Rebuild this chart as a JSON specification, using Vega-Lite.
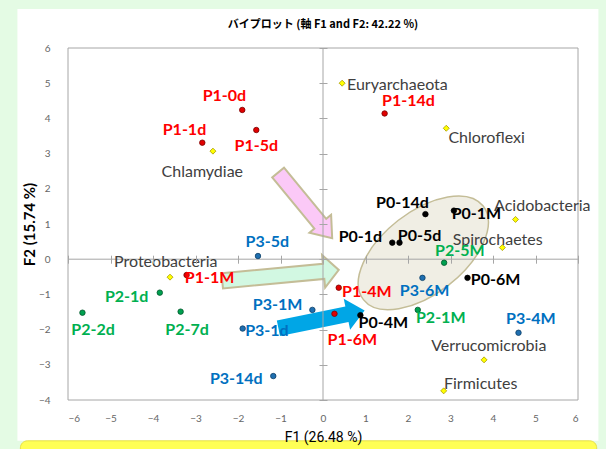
{
  "$schema": "https://vega.github.io/schema/vega-lite/v6.json",
  "width": 510,
  "height": 352,
  "autosize": {"type": "none"},
  "padding": {"left": 68, "top": 48, "right": 28, "bottom": 49},
  "background": "#e4fbe4",
  "config": {"view": {"stroke": null}},
  "title": {"text": "バイプロット (軸 F1 and F2: 42.22 %)", "font": "Noto Sans CJK JP", "fontSize": 11, "fontWeight": "bold", "color": "#000000", "offset": -21, "anchor": "middle", "frame": "group", "zindex": 1},
  "resolve": {"axis": {"x": "independent", "y": "independent"}},
  "datasets": {
    "obs": [
      {"name": "P1-0d", "group": "P1", "x": -1.90, "y": 4.24, "lx": -2.32, "ly": 4.63},
      {"name": "P1-1d", "group": "P1", "x": -2.84, "y": 3.31, "lx": -3.26, "ly": 3.68},
      {"name": "P1-5d", "group": "P1", "x": -1.57, "y": 3.67, "lx": -1.57, "ly": 3.21},
      {"name": "P1-14d", "group": "P1", "x": 1.45, "y": 4.14, "lx": 2.01, "ly": 4.49},
      {"name": "P1-1M", "group": "P1", "x": -3.21, "y": -0.45, "lx": -2.67, "ly": -0.53},
      {"name": "P1-4M", "group": "P1", "x": 0.37, "y": -0.81, "lx": 1.03, "ly": -0.93},
      {"name": "P1-6M", "group": "P1", "x": 0.27, "y": -1.55, "lx": 0.69, "ly": -2.30},
      {"name": "P0-14d", "group": "P0", "x": 2.41, "y": 1.28, "lx": 1.87, "ly": 1.59},
      {"name": "P0-1M", "group": "P0", "x": 3.08, "y": 1.38, "lx": 3.61, "ly": 1.29},
      {"name": "P0-1d", "group": "P0", "x": 1.63, "y": 0.47, "lx": 0.88, "ly": 0.63},
      {"name": "P0-5d", "group": "P0", "x": 1.80, "y": 0.47, "lx": 2.27, "ly": 0.65},
      {"name": "P0-6M", "group": "P0", "x": 3.40, "y": -0.53, "lx": 4.06, "ly": -0.59},
      {"name": "P0-4M", "group": "P0", "x": 0.88, "y": -1.59, "lx": 1.42, "ly": -1.80},
      {"name": "P2-1d", "group": "P2", "x": -3.84, "y": -0.95, "lx": -4.62, "ly": -1.07},
      {"name": "P2-2d", "group": "P2", "x": -5.66, "y": -1.52, "lx": -5.41, "ly": -2.01},
      {"name": "P2-7d", "group": "P2", "x": -3.35, "y": -1.49, "lx": -3.20, "ly": -2.01},
      {"name": "P2-5M", "group": "P2", "x": 2.85, "y": -0.10, "lx": 3.22, "ly": 0.23},
      {"name": "P2-1M", "group": "P2", "x": 2.23, "y": -1.44, "lx": 2.77, "ly": -1.67},
      {"name": "P3-5d", "group": "P3", "x": -1.53, "y": 0.09, "lx": -1.31, "ly": 0.48},
      {"name": "P3-1d", "group": "P3", "x": -1.89, "y": -1.97, "lx": -1.32, "ly": -2.05},
      {"name": "P3-14d", "group": "P3", "x": -1.17, "y": -3.32, "lx": -2.04, "ly": -3.41},
      {"name": "P3-1M", "group": "P3", "x": -0.25, "y": -1.44, "lx": -1.07, "ly": -1.29},
      {"name": "P3-6M", "group": "P3", "x": 2.34, "y": -0.53, "lx": 2.39, "ly": -0.91},
      {"name": "P3-4M", "group": "P3", "x": 4.60, "y": -2.09, "lx": 4.89, "ly": -1.69}
    ],
    "taxa": [
      {"name": "Chlamydiae", "x": -2.59, "y": 3.07, "lx": -2.84, "ly": 2.48},
      {"name": "Euryarchaeota", "x": 0.45, "y": 5.00, "lx": 1.75, "ly": 4.95},
      {"name": "Chloroflexi", "x": 2.90, "y": 3.72, "lx": 3.85, "ly": 3.43},
      {"name": "Acidobacteria", "x": 4.53, "y": 1.13, "lx": 5.16, "ly": 1.50},
      {"name": "Spirochaetes", "x": 4.22, "y": 0.33, "lx": 4.11, "ly": 0.55},
      {"name": "Proteobacteria", "x": -3.60, "y": -0.51, "lx": -3.70, "ly": -0.07},
      {"name": "Verrucomicrobia", "x": 3.79, "y": -2.86, "lx": 3.90, "ly": -2.47},
      {"name": "Firmicutes", "x": 2.84, "y": -3.74, "lx": 3.71, "ly": -3.54}
    ]
  },
  "layer": [
    {
      "data": {"values": [{}]},
      "mark": {"type": "rect", "fill": "#ffffff"},
      "encoding": {
        "x": {"datum": -7.19, "scale": {"domain": [-6, 6], "nice": false, "zero": false}, "axis": null},
        "x2": {"datum": 6.48},
        "y": {"datum": 7.11, "scale": {"domain": [-4, 6], "nice": false, "zero": false}, "axis": null},
        "y2": {"datum": -5.16}
      }
    },
    {
      "data": {"values": [{}]},
      "mark": {"type": "rect", "fill": "#ffff55", "stroke": "#e6e04a", "strokeWidth": 1, "cornerRadius": 7},
      "encoding": {
        "x": {"datum": -7.12, "scale": {"domain": [-6, 6], "nice": false, "zero": false}, "axis": null},
        "x2": {"datum": 6.44},
        "y": {"datum": -5.16, "scale": {"domain": [-4, 6], "nice": false, "zero": false}, "axis": null},
        "y2": {"datum": -5.8}
      }
    },
    {
      "data": {"values": [{}]},
      "mark": {"type": "point", "filled": true, "shape": "M 1 0 C 1 0.298 0.5523 0.54 0 0.54 C -0.5523 0.54 -1 0.298 -1 0 C -1 -0.298 -0.5523 -0.54 0 -0.54 C 0.5523 -0.54 1 -0.298 1 0 Z", "size": 23104, "angle": -38, "fill": "#eeece1", "fillOpacity": 0.9, "stroke": "#c4bd97", "strokeWidth": 1.5, "opacity": 1},
      "encoding": {
        "x": {"datum": 2.36, "scale": {"domain": [-6, 6], "nice": false, "zero": false}, "axis": null},
        "y": {"datum": 0.18, "scale": {"domain": [-4, 6], "nice": false, "zero": false}, "axis": null}
      }
    },
    {
      "data": {"values": [{}]},
      "mark": {"type": "point", "filled": true, "shape": "M -1 -0.18 L 0.56 -0.18 L 0.56 -0.33 L 1 0 L 0.56 0.33 L 0.56 0.18 L -1 0.18 Z", "size": 7225, "angle": 50.5, "fill": "#fbc9f7", "stroke": "#c4bd97", "strokeWidth": 2, "opacity": 1},
      "encoding": {
        "x": {"datum": -0.42, "scale": {"domain": [-6, 6], "nice": false, "zero": false}, "axis": null},
        "y": {"datum": 1.53, "scale": {"domain": [-4, 6], "nice": false, "zero": false}, "axis": null}
      }
    },
    {
      "data": {"values": [{}]},
      "mark": {"type": "point", "filled": true, "shape": "M -1 -0.13 L 0.74 -0.13 L 0.74 -0.28 L 1 0 L 0.74 0.28 L 0.74 0.13 L -1 0.13 Z", "size": 13689, "angle": -5.4, "fill": "#d2f8e2", "stroke": "#c4bd97", "strokeWidth": 2, "opacity": 1},
      "encoding": {
        "x": {"datum": -1.0, "scale": {"domain": [-6, 6], "nice": false, "zero": false}, "axis": null},
        "y": {"datum": -0.46, "scale": {"domain": [-4, 6], "nice": false, "zero": false}, "axis": null}
      }
    },
    {
      "data": {"values": [{}]},
      "mark": {"type": "point", "filled": true, "shape": "M -1 -0.18 L 0.59 -0.18 L 0.59 -0.36 L 1 0 L 0.59 0.36 L 0.59 0.18 L -1 0.18 Z", "size": 7744, "angle": -11.6, "fill": "#00a6e6", "strokeWidth": 0, "opacity": 1},
      "encoding": {
        "x": {"datum": -0.035, "scale": {"domain": [-6, 6], "nice": false, "zero": false}, "axis": null},
        "y": {"datum": -1.71, "scale": {"domain": [-4, 6], "nice": false, "zero": false}, "axis": null}
      }
    },
    {
      "data": {"values": [{}]},
      "mark": {"type": "rule", "color": "#a6a6a6", "strokeWidth": 1},
      "encoding": {
        "x": {"datum": 0, "scale": {"domain": [-6, 6], "nice": false, "zero": false},
          "axis": {"orient": "bottom", "offset": -144.8, "values": [-6, -5, -4, -3, -2, -1, 0, 1, 2, 3, 4, 5, 6], "domain": false, "labels": false, "grid": false, "ticks": true, "tickSize": 8, "tickColor": "#a6a6a6", "tickWidth": 1, "title": null, "zindex": 1}}
      }
    },
    {
      "data": {"values": [{}]},
      "mark": {"type": "rule", "color": "#a6a6a6", "strokeWidth": 1},
      "encoding": {
        "y": {"datum": 0, "scale": {"domain": [-4, 6], "nice": false, "zero": false},
          "axis": {"orient": "left", "offset": -259, "values": [-4, -3, -2, -1, 0, 1, 2, 3, 4, 5, 6], "domain": false, "labels": false, "grid": false, "ticks": true, "tickSize": 8, "tickColor": "#a6a6a6", "tickWidth": 1, "title": null, "zindex": 1}}
      }
    },
    {
      "data": {"values": [{}]},
      "mark": {"type": "rect", "filled": false, "fill": null, "stroke": "#a6a6a6", "strokeWidth": 1},
      "encoding": {
        "x": {"datum": -6, "scale": {"domain": [-6, 6], "nice": false, "zero": false}, "axis": null},
        "x2": {"datum": 6},
        "y": {"datum": -4, "scale": {"domain": [-4, 6], "nice": false, "zero": false}, "axis": null},
        "y2": {"datum": 6}
      }
    },
    {
      "data": {"name": "taxa"},
      "mark": {"type": "point", "shape": "diamond", "filled": true, "size": 36, "fill": "#ffff00", "stroke": "#a89a00", "strokeWidth": 0.8, "opacity": 1},
      "encoding": {
        "x": {"field": "x", "type": "quantitative", "scale": {"domain": [-6, 6], "nice": false, "zero": false}, "axis": null},
        "y": {"field": "y", "type": "quantitative", "scale": {"domain": [-4, 6], "nice": false, "zero": false}, "axis": null}
      }
    },
    {
      "data": {"name": "obs"},
      "mark": {"type": "point", "shape": "circle", "filled": true, "size": 30, "strokeWidth": 0.8, "opacity": 1},
      "encoding": {
        "x": {"field": "x", "type": "quantitative", "scale": {"domain": [-6, 6], "nice": false, "zero": false},
          "axis": {"orient": "bottom", "values": [-6, -5, -4, -3, -2, -1, 0, 1, 2, 3, 4, 5, 6], "domain": false, "ticks": false, "grid": false, "labelFont": "Lato", "labelFontSize": 10, "labelColor": "#666666", "labelPadding": 13, "title": "F1 (26.48 %)", "titleFont": "Liberation Sans Narrow, Roboto, sans-serif", "titleFontSize": 14, "titleFontWeight": "normal", "titleColor": "#000000", "titlePadding": 7, "zindex": 1}},
        "y": {"field": "y", "type": "quantitative", "scale": {"domain": [-4, 6], "nice": false, "zero": false},
          "axis": {"orient": "left", "values": [-4, -3, -2, -1, 0, 1, 2, 3, 4, 5, 6], "domain": false, "ticks": false, "grid": false, "labelFont": "Lato", "labelFontSize": 10, "labelColor": "#666666", "labelPadding": 18, "title": "F2 (15.74 %)", "titleFont": "Lato", "titleFontSize": 15, "titleFontWeight": "bold", "titleColor": "#000000", "titlePadding": 1, "zindex": 1}},
        "fill": {"field": "group", "type": "nominal", "scale": {"domain": ["P0", "P1", "P2", "P3"], "range": ["#000000", "#e00000", "#00a050", "#1f6fb0"]}, "legend": null},
        "stroke": {"field": "group", "type": "nominal", "scale": {"domain": ["P0", "P1", "P2", "P3"], "range": ["#000000", "#7a0000", "#00552a", "#0b3d66"]}, "legend": null}
      }
    },
    {
      "data": {"name": "taxa"},
      "mark": {"type": "text", "font": "Lato", "fontSize": 16, "fontWeight": "normal", "color": "#404040", "align": "center", "baseline": "middle"},
      "encoding": {
        "x": {"field": "lx", "type": "quantitative", "scale": {"domain": [-6, 6], "nice": false, "zero": false}, "axis": null},
        "y": {"field": "ly", "type": "quantitative", "scale": {"domain": [-4, 6], "nice": false, "zero": false}, "axis": null},
        "text": {"field": "name"}
      }
    },
    {
      "data": {"name": "obs"},
      "mark": {"type": "text", "font": "Lato", "fontSize": 16, "fontWeight": "bold", "align": "center", "baseline": "middle"},
      "encoding": {
        "x": {"field": "lx", "type": "quantitative", "scale": {"domain": [-6, 6], "nice": false, "zero": false}, "axis": null},
        "y": {"field": "ly", "type": "quantitative", "scale": {"domain": [-4, 6], "nice": false, "zero": false}, "axis": null},
        "text": {"field": "name"},
        "color": {"field": "group", "type": "nominal", "scale": {"domain": ["P0", "P1", "P2", "P3"], "range": ["#000000", "#ff0000", "#00b050", "#0070c0"]}, "legend": null}
      }
    }
  ]
}
